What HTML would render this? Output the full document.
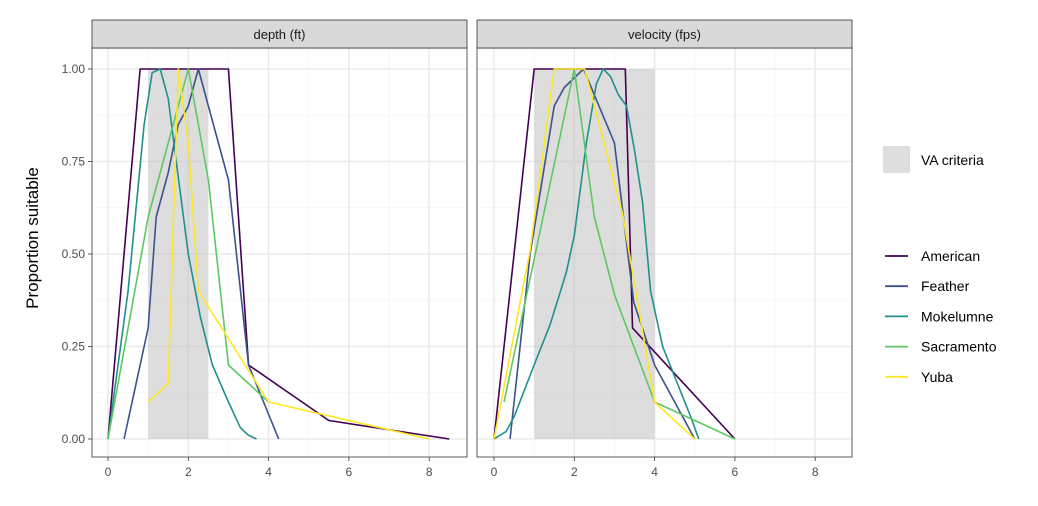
<!DOCTYPE html>
<html><head><meta charset="utf-8"><style>
body{margin:0;background:#fff}
svg{display:block;font-family:"Liberation Sans",sans-serif}
</style></head><body>
<svg id="chart" width="1038" height="506" viewBox="0 0 1038 506">
<text x="38" y="238" transform="rotate(-90 38 238)" text-anchor="middle" font-size="17" fill="#000">Proportion suitable</text>
<g>
<rect x="883" y="146" width="27" height="27" fill="#dedede"/>
<text x="921" y="165" font-size="14">VA criteria</text>
<g id="legLines"></g>
</g>
</svg>
<script>
const panels = ["depth (ft)", "velocity (fps)"];
const rivers = ["American","Feather","Mokelumne","Sacramento","Yuba"];
const colors = ["#440154","#3B528B","#21908C","#5DC863","#FDE725"];
const vaDepth = [1, 2.5];
const vaVelocity = [1, 4];
const xTicks = [0,2,4,6,8];
const yTicks = [0,0.25,0.5,0.75,1];
const yTickLabels = ["0.00","0.25","0.50","0.75","1.00"];
const depthAmerican = [[0,0],[0.8,1],[3.0,1],[3.5,0.2],[5.5,0.05],[8.5,0]];
const depthFeather = [[0.4,0],[1.0,0.3],[1.2,0.6],[1.5,0.72],[1.75,0.85],[2.0,0.9],[2.25,1],[3.0,0.7],[3.5,0.2],[4.25,0]];
const depthMokelumne = [[0,0],[0.5,0.4],[0.9,0.85],[1.1,0.99],[1.3,1],[1.5,0.92],[1.7,0.75],[2,0.5],[2.3,0.33],[2.6,0.2],[3,0.1],[3.3,0.03],[3.5,0.01],[3.7,0]];
const depthSacramento = [[0,0],[1.0,0.6],[2.0,1],[2.5,0.7],[3.0,0.2],[4.0,0.1]];
const depthYuba = [[1.0,0.1],[1.5,0.15],[1.75,1],[2.0,0.8],[2.25,0.4],[4.0,0.1],[8,0]];
const velAmerican = [[0,0],[1,1],[3.27,1],[3.45,0.3],[6,0]];
const velFeather = [[0.4,0],[0.9,0.5],[1.5,0.9],[1.75,0.95],[2.23,1],[3.0,0.8],[3.48,0.37],[4.0,0.2],[5,0]];
const velMokelumne = [[0,0],[0.3,0.02],[0.5,0.06],[1.0,0.2],[1.4,0.31],[1.8,0.45],[2.0,0.55],[2.3,0.8],[2.55,0.96],[2.72,1],[2.9,0.98],[3.1,0.93],[3.3,0.9],[3.5,0.78],[3.7,0.64],[3.9,0.4],[4.2,0.25],[4.9,0.06],[5.1,0]];
const velSacramento = [[0.25,0.1],[2,1],[2.5,0.6],[3.0,0.39],[4,0.1],[6,0]];
const velYuba = [[0,0],[0.9,0.51],[1.5,1],[2.26,1],[3.2,0.61],[4,0.1],[5,0]];
const depthSeries = [depthAmerican,depthFeather,depthMokelumne,depthSacramento,depthYuba];
const velSeries = [velAmerican,velFeather,velMokelumne,velSacramento,velYuba];

const NS="http://www.w3.org/2000/svg";
const svg=document.getElementById('chart');
function mk(tag,attrs,parent){const e=document.createElementNS(NS,tag);for(const k in attrs)e.setAttribute(k,attrs[k]);(parent||svg).appendChild(e);return e;}
const plotTop=48,plotBot=457;
const y0px=439,y1px=69;
function sy(v){return y0px+(y1px-y0px)*v;}
const panelX=[92,477], panelW=375, x0=[108,494], unit=40.15;
[0,1].forEach(p=>{
  const g=mk('g',{});
  
  
  const sx=v=>x0[p]+v*unit;
  const L=panelX[p],R=L+panelW;
  mk('rect',{x:L,y:plotTop,width:panelW,height:plotBot-plotTop,fill:'#fff'},g);
  for(let v=1;v<=9;v+=2){const x=sx(v);if(x<R)mk('line',{x1:x,x2:x,y1:plotTop,y2:plotBot,stroke:'#f4f4f4','stroke-width':0.8},g);}
  for(let i=0;i<4;i++){const y=sy(0.125+i*0.25);mk('line',{x1:L,x2:R,y1:y,y2:y,stroke:'#f4f4f4','stroke-width':0.8},g);}
  xTicks.forEach(v=>mk('line',{x1:sx(v),x2:sx(v),y1:plotTop,y2:plotBot,stroke:'#ebebeb','stroke-width':1.6},g));
  yTicks.forEach(v=>mk('line',{x1:L,x2:R,y1:sy(v),y2:sy(v),stroke:'#ebebeb','stroke-width':1.6},g));
  const va=p===0?vaDepth:vaVelocity;
  const r=mk('rect',{x:sx(va[0]),y:sy(1),width:sx(va[1])-sx(va[0]),height:sy(0)-sy(1),fill:'#bbbbbb','fill-opacity':0.5},g);
  
  
  const ser=p===0?depthSeries:velSeries;
  ser.forEach((pts,i)=>{
    const pl=mk('polyline',{points:pts.map(q=>sx(q[0])+','+sy(q[1])).join(' '),fill:'none',stroke:colors[i],'stroke-width':1.6,'stroke-linejoin':'round'},g);
    
    
  });
  mk('rect',{x:L,y:plotTop,width:panelW,height:plotBot-plotTop,fill:'none',stroke:'#333','stroke-width':0.8},g);
  const st=mk('rect',{x:L,y:20,width:panelW,height:28,fill:'#d9d9d9',stroke:'#333','stroke-width':0.8},g);
  
  
  const t=mk('text',{x:L+panelW/2,y:39,'text-anchor':'middle','font-size':13,fill:'#1a1a1a'},g);
  t.textContent=panels[p];
  
  
  xTicks.forEach(v=>{
    mk('line',{x1:sx(v),x2:sx(v),y1:plotBot,y2:plotBot+4,stroke:'#333','stroke-width':0.8},g);
    const tl=mk('text',{x:sx(v),y:plotBot+19,'text-anchor':'middle','font-size':12,fill:'#4d4d4d'},g);
    tl.textContent=v;
    
    
  });
  if(p===0){yTicks.forEach((v,i)=>{
    mk('line',{x1:L-4,x2:L,y1:sy(v),y2:sy(v),stroke:'#333','stroke-width':0.8},g);
    const tl=mk('text',{x:L-7,y:sy(v)+4,'text-anchor':'end','font-size':12,fill:'#4d4d4d'},g);
    tl.textContent=yTickLabels[i];
    
    
  });}
});
const lg=document.getElementById('legLines');
rivers.forEach((n,i)=>{
  const y=256+i*30.2;
  const ln=mk('line',{x1:885,x2:908,y1:y,y2:y,stroke:colors[i],'stroke-width':1.8},lg);
  
  
  const t=mk('text',{x:921,y:y+5,'font-size':14,fill:'#000'},lg);
  t.textContent=n;
  
  
});
</script>
</body></html>
